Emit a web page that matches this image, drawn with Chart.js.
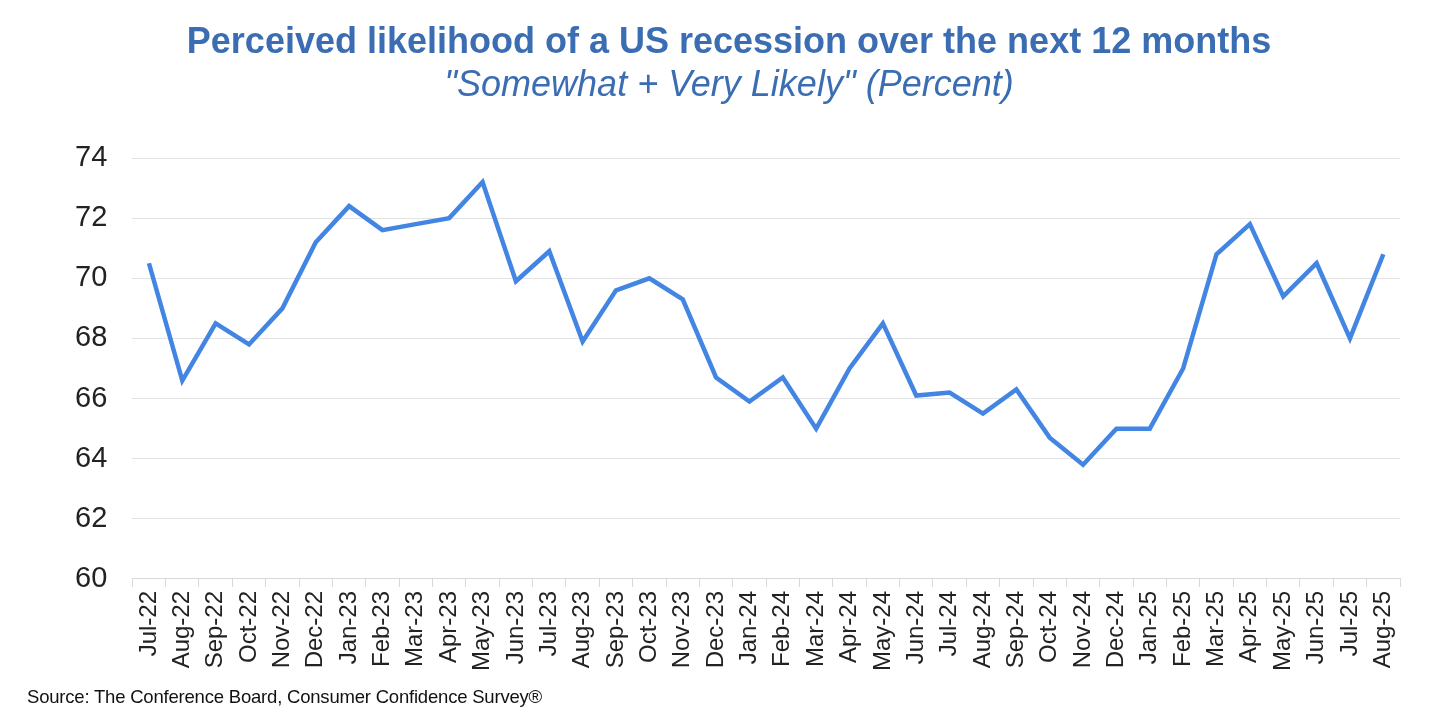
<!DOCTYPE html>
<html>
<head>
<meta charset="utf-8">
<script src="https://cdn.jsdelivr.net/npm/chart.js@4"></script>
<style>
  html, body { margin: 0; padding: 0; background: #ffffff; }
  #wrap { position: relative; width: 1436px; height: 726px; overflow: hidden; }
  #c { position: absolute; left: 0; top: 0; }
  .ttl { position: absolute; left: 0; width: 1458px; text-align: center; font-family: "Liberation Sans", Arial, sans-serif; color: #3b6db3; font-size: 36px; line-height: 40px; white-space: nowrap; }
  #title { top: 21px; font-weight: bold; }
  #subtitle { top: 64px; font-style: italic; }
  #source { position: absolute; left: 27px; top: 686px; font-family: "Liberation Sans", Arial, sans-serif; font-size: 18.5px; color: #111; letter-spacing: -0.2px; white-space: nowrap; }
</style>
</head>
<body>
<div id="wrap">
  <canvas id="c" width="1436" height="726"></canvas>
  <div id="title" class="ttl"></div>
  <div id="subtitle" class="ttl"></div>
  <div id="source">Source: The Conference Board, Consumer Confidence Survey®</div>
</div>
<script>
const categories = ["Jul-22","Aug-22","Sep-22","Oct-22","Nov-22","Dec-22","Jan-23","Feb-23","Mar-23","Apr-23","May-23","Jun-23","Jul-23","Aug-23","Sep-23","Oct-23","Nov-23","Dec-23","Jan-24","Feb-24","Mar-24","Apr-24","May-24","Jun-24","Jul-24","Aug-24","Sep-24","Oct-24","Nov-24","Dec-24","Jan-25","Feb-25","Mar-25","Apr-25","May-25","Jun-25","Jul-25","Aug-25"];
const likelihood = [70.5,66.6,68.5,67.8,69.0,71.2,72.4,71.6,71.8,72.0,73.2,69.9,70.9,67.9,69.6,70.0,69.3,66.7,65.9,66.7,65.0,67.0,68.5,66.1,66.2,65.5,66.3,64.7,63.8,65.0,65.0,67.0,70.8,71.8,69.4,70.5,68.0,70.8];
const yTicks = [60,62,64,66,68,70,72,74];
const titleText = "Perceived likelihood of a US recession over the next 12 months";
const subtitleText = "\"Somewhat + Very Likely\" (Percent)";

document.getElementById('title').textContent = titleText;
document.getElementById('subtitle').textContent = subtitleText;

const fontFam = "'Liberation Sans', Arial, sans-serif";

new Chart(document.getElementById('c'), {
  type: 'line',
  data: {
    labels: categories,
    datasets: [{
      data: likelihood,
      borderColor: '#4285e3',
      borderWidth: 4.5,
      pointRadius: 0,
      tension: 0,
      fill: false
    }]
  },
  options: {
    responsive: false,
    animation: false,
    devicePixelRatio: 1,
    layout: { padding: { left: 50, right: 36, top: 158, bottom: 51 } },
    plugins: {
      legend: { display: false },
      tooltip: { enabled: false },
      title: { display: false },
      subtitle: { display: false }
    },
    scales: {
      x: {
        type: 'category',
        offset: true,
        border: { display: true, color: '#d9d9d9', width: 1 },
        grid: { display: true, offset: true, drawOnChartArea: false, drawTicks: true, tickLength: 8, color: '#d9d9d9' },
        ticks: {
          autoSkip: false,
          maxRotation: 90,
          minRotation: 90,
          color: '#222',
          padding: 4,
          font: { family: fontFam, size: 24 }
        }
      },
      y: {
        min: 60,
        max: 74,
        afterBuildTicks: (axis) => { axis.ticks = yTicks.map(v => ({ value: v })); },
        border: { display: false },
        grid: { color: '#e3e3e3', lineWidth: 1, drawTicks: false },
        ticks: {
          color: '#222',
          padding: 25,
          font: { family: fontFam, size: 29 }
        }
      }
    }
  }
});
</script>
</body>
</html>
